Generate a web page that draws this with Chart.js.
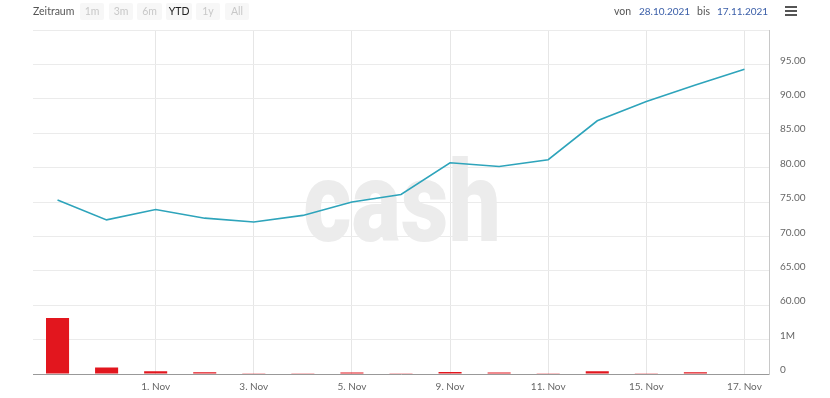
<!DOCTYPE html>
<html>
<head>
<meta charset="utf-8">
<script src="https://cdn.jsdelivr.net/npm/chart.js@4.4.0/dist/chart.umd.min.js"></script>
<style>
  body { margin: 0; background: #fff; font-family: Lato, "Open Sans", sans-serif; }
  #wrap { position: relative; width: 830px; height: 398px; }
  #chart { position: absolute; left: 0; top: 0; }
  .t { position: absolute; top: 4px; height: 15px; line-height: 15px; font-size: 10.5px; color: #555; white-space: nowrap; }
  .date { font-size: 10px; }
  .btn { position: absolute; top: 3px; height: 17px; line-height: 17px; font-size: 10.5px; text-align: center; background: #f7f7f7; color: #c8c8c8; border-radius: 2px; }
  .btn.on { color: #222; }
  .date { color: #3a5ea8; }
  #menu { position: absolute; left: 785px; top: 6px; width: 12px; }
  #menu span { display: block; height: 2px; background: #555; margin-bottom: 2px; }
</style>
</head>
<body>
<div id="wrap">
  <canvas id="chart" width="830" height="398"></canvas>
  <div class="t" style="left:33px;">Zeitraum</div>
  <div class="btn" style="left:80px;width:24px;">1m</div>
  <div class="btn" style="left:109px;width:24px;">3m</div>
  <div class="btn" style="left:137px;width:25px;">6m</div>
  <div class="btn on" style="left:166px;width:26px;">YTD</div>
  <div class="btn" style="left:196px;width:24px;">1y</div>
  <div class="btn" style="left:225px;width:24px;">All</div>
  <div class="t" style="left:614px;">von</div>
  <div class="t date" style="left:639px;">28.10.2021</div>
  <div class="t" style="left:697px;">bis</div>
  <div class="t date" style="left:717px;">17.11.2021</div>
  <div id="menu"><span></span><span></span><span></span></div>
</div>
<script>
const days = ['28. Okt', '29. Okt', '1. Nov', '2. Nov', '3. Nov', '4. Nov', '5. Nov', '8. Nov',
  '9. Nov', '10. Nov', '11. Nov', '12. Nov', '15. Nov', '16. Nov', '17. Nov'];
const price = [75.3, 72.4, 73.9, 72.65, 72.1, 73.05, 75.0, 76.1, 80.7, 80.15, 81.15, 86.8, 89.6, 92.0, 94.3];
const volume = [1630000, 190000, 80000, 50000, 25000, 25000, 40000, 25000, 60000, 40000, 25000, 80000, 25000, 50000, 0];

// grey "cash" logo behind the series
const watermark = {
  id: 'watermark',
  beforeDatasetsDraw(chart) {
    const c = chart.ctx;
    c.save();
    c.fillStyle = '#ececec';
    c.font = '900 119px Roboto';
    c.textAlign = 'center';
    c.textBaseline = 'alphabetic';
    c.translate(402, 241);
    c.scale(0.78, 0.95);
    c.fillText('cash', 0, 0);
    c.restore();
  }
};

const ctx = document.getElementById('chart').getContext('2d');

Chart.defaults.font.family = 'Lato';
Chart.defaults.font.size = 10;
Chart.defaults.color = '#666';

const chart = new Chart(ctx, {
  type: 'bar',
  data: {
    labels: days,
    datasets: [
      {
        type: 'line',
        data: price,
        yAxisID: 'y',
        borderColor: '#2ea4bb',
        borderWidth: 1.6,
        pointRadius: 0,
        tension: 0
      },
      {
        type: 'bar',
        data: volume,
        yAxisID: 'vol',
        backgroundColor: '#e2161e',
        barPercentage: 0.47,
        categoryPercentage: 1
      }
    ]
  },
  options: {
    responsive: false,
    animation: false,
    layout: { padding: { top: 30, left: 33, right: 0, bottom: 0 } },
    plugins: {
      legend: { display: false },
      tooltip: { enabled: false }
    },
    scales: {
      x: {
        grid: {
          offset: false,
          drawTicks: false,
          color: (c) => (c.index >= 2 && c.index % 2 === 0) ? '#e6e6e6' : 'rgba(0,0,0,0)'
        },
        border: { color: '#999' },
        ticks: {
          autoSkip: false,
          maxRotation: 0,
          padding: 7,
          callback: function (v, i) { return (i >= 2 && i % 2 === 0) ? days[i] : ''; }
        },
        afterFit: (s) => { s.height = 24; }
      },
      y: {
        position: 'right',
        stack: 'panes',
        stackWeight: 4,
        min: 60,
        max: 100,
        grid: { color: '#ebebeb', drawTicks: false },
        border: { color: '#c8c8c8' },
        ticks: {
          stepSize: 5,
          padding: 11,
          labelOffset: -4,
          callback: (v) => v === 100 ? '' : v.toFixed(2)
        },
        afterFit: (s) => { s.width = 61; }
      },
      vol: {
        position: 'right',
        stack: 'panes',
        stackWeight: 1,
        min: 0,
        max: 2000000,
        grid: { color: '#ebebeb', drawTicks: false },
        border: { color: '#c8c8c8' },
        ticks: {
          stepSize: 1000000,
          padding: 11,
          labelOffset: -4,
          callback: (v) => v === 0 ? '0' : (v === 1000000 ? '1M' : '')
        },
        afterFit: (s) => { s.width = 61; }
      }
    }
  },
  plugins: [watermark]
});
</script>
</body>
</html>
